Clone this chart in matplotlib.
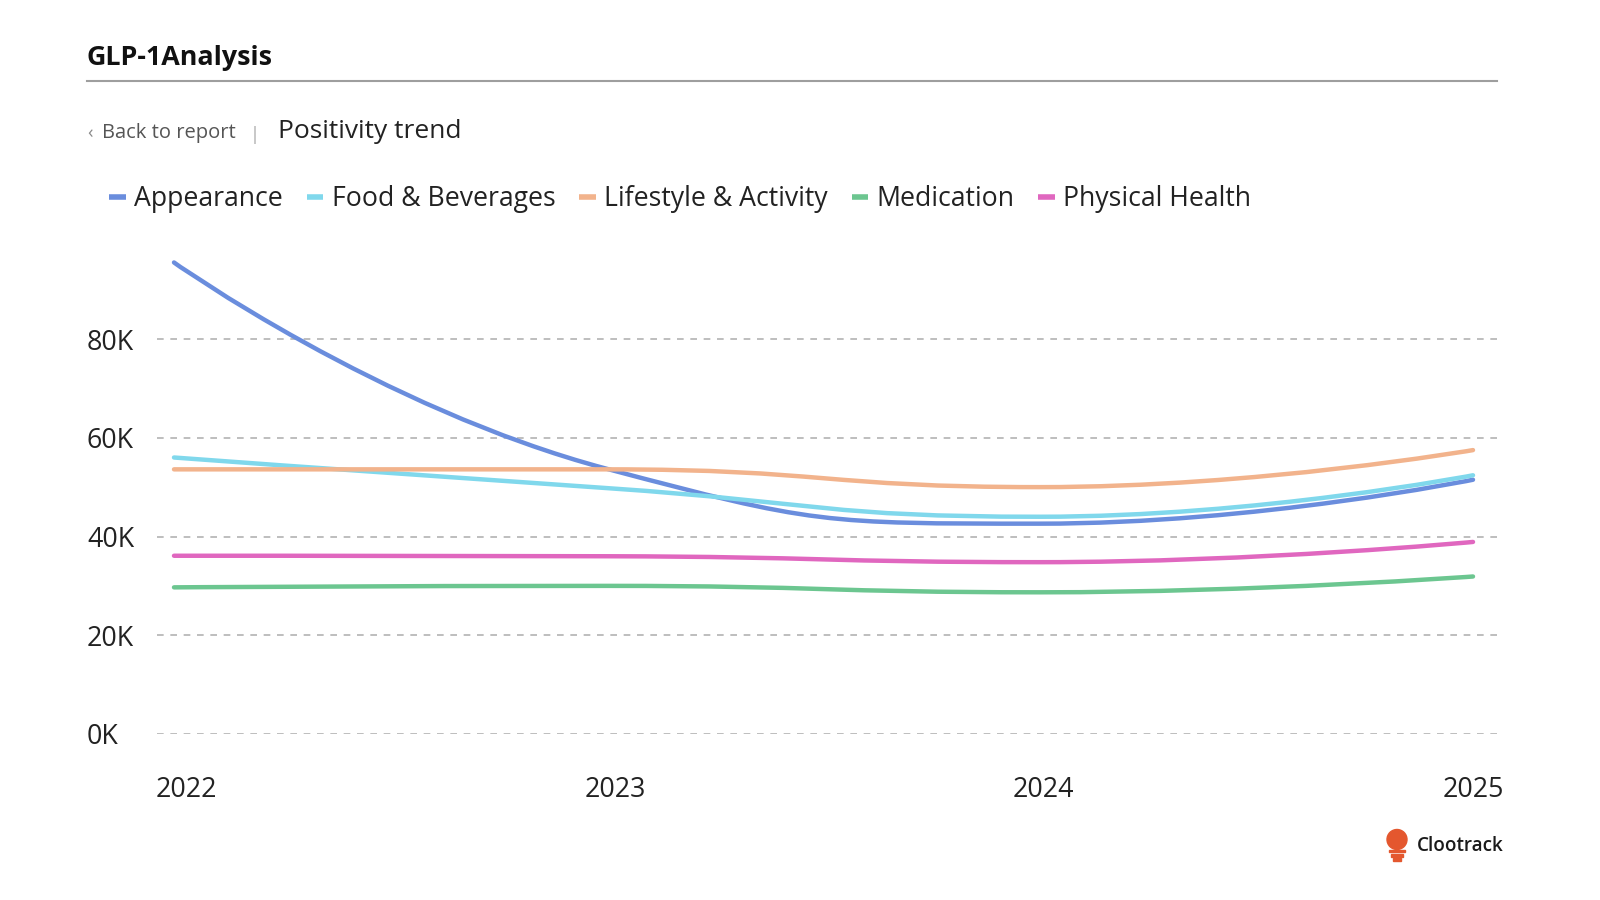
import numpy as np
import matplotlib
matplotlib.use("Agg")
import matplotlib.pyplot as plt
from matplotlib.path import Path
from matplotlib.patches import PathPatch, Ellipse, Rectangle
from matplotlib.lines import Line2D
import matplotlib.transforms as mtransforms

# ---------------- data ----------------
years = [2022, 2023, 2024, 2025]
year_labels = ["2022", "2023", "2024", "2025"]
series_names = ["Appearance", "Food & Beverages", "Lifestyle & Activity", "Medication", "Physical Health"]
appearance = [95500, 53700, 42600, 51500]
food_beverages = [56000, 49800, 44000, 52400]
lifestyle_activity = [53600, 53600, 50000, 57500]
medication = [29700, 30000, 28700, 31900]
physical_health = [36100, 36000, 34800, 38900]
y_ticks = [0, 20000, 40000, 60000, 80000]
y_tick_labels = ["0K", "20K", "40K", "60K", "80K"]

series_values = [appearance, food_beverages, lifestyle_activity, medication, physical_health]
colors = ["#6a8ddd", "#80d8ec", "#f2b38c", "#6cc690", "#e067bf"]

plt.rcParams["font.family"] = ["Open Sans", "DejaVu Sans"]

W, H = 1600, 900
fig = plt.figure(figsize=(W / 100, H / 100), dpi=100)
fig.patch.set_facecolor("white")

def fx(px):
    return px / W

def fy(py):
    return 1 - py / H

# axes geometry (pixels)
ax_left, ax_right = 157, 1497
ax_bottom, ax_top = 734, 240.25
ax = fig.add_axes([fx(ax_left), fy(ax_bottom), (ax_right - ax_left) / W, (ax_bottom - ax_top) / H])
ax.set_xlim(2022 - 17 / 433, 2025 + 24 / 433)
ax.set_ylim(0, 100000)
for s in ax.spines.values():
    s.set_visible(False)
ax.set_facecolor("white")

# grid
ax.set_yticks(y_ticks)
ax.set_yticklabels(y_tick_labels)
ax.yaxis.grid(True, color="#b3b3b3", linestyle=(0, (4, 4)), linewidth=1.2)
ax.xaxis.grid(False)
ax.set_axisbelow(True)
ax.tick_params(axis="y", length=0, pad=50.4, labelsize=19.3, labelcolor="#222222")
for lab in ax.get_yticklabels():
    lab.set_horizontalalignment("left")

ax.set_xticks(years)
ax.set_xticklabels(year_labels)
ax.tick_params(axis="x", length=0, pad=30, labelsize=19.3, labelcolor="#222222")
for lab, dx in zip(ax.get_xticklabels(), [12, 8, 3, 0]):
    off = mtransforms.ScaledTranslation(dx / 100, 0, fig.dpi_scale_trans)
    lab.set_transform(lab.get_transform() + off)


def echarts_smooth_path(xs, ys, smooth=0.5):
    pts = ax.transData.transform(np.column_stack([xs, ys]).astype(float))
    n = len(pts)
    verts = [pts[0]]
    codes = [Path.MOVETO]
    cp0 = pts[0].copy()
    for i in range(1, n):
        p = pts[i]
        prev = pts[i - 1]
        if i == n - 1:
            cp1 = p.copy()
            next_cp0 = p.copy()
        else:
            nxt = pts[i + 1]
            v = nxt - prev
            len_prev = np.hypot(*(p - prev))
            len_next = np.hypot(*(nxt - p))
            ratio = len_next / (len_next + len_prev)
            next_cp0 = p + v * smooth * ratio
            next_cp0 = np.minimum(next_cp0, np.maximum(nxt, p))
            next_cp0 = np.maximum(next_cp0, np.minimum(nxt, p))
            v = next_cp0 - p
            cp1 = p - v * len_prev / len_next
            cp1 = np.minimum(cp1, np.maximum(prev, p))
            cp1 = np.maximum(cp1, np.minimum(prev, p))
            v = p - cp1
            next_cp0 = p + v * len_next / len_prev
        verts += [cp0, cp1, p]
        codes += [Path.CURVE4] * 3
        cp0 = next_cp0
    inv = ax.transData.inverted()
    return Path(inv.transform(np.array(verts)), codes)


for vals, c in zip(series_values, colors):
    path = echarts_smooth_path(years, vals)
    patch = PathPatch(path, fill=False, edgecolor=c, linewidth=3.2, capstyle="round",
                      joinstyle="round", clip_on=False, zorder=3)
    ax.add_patch(patch)

# legend
handles = [Line2D([], [], color=c, linewidth=4, solid_capstyle="butt") for c in colors]
fig.legend(handles, series_names, loc="center left", bbox_to_anchor=(fx(109), fy(199)),
           ncol=5, frameon=False, fontsize=19.2, handlelength=0.62, handletextpad=0.32,
           columnspacing=0.89, borderpad=0, borderaxespad=0, labelcolor="#222222")

# header
fig.text(fx(87), fy(58), "GLP-1Analysis", fontsize=19.4, fontweight="bold", color="#111111",
         ha="left", va="center")
fig.add_artist(Line2D([fx(87), fx(1497)], [fy(81), fy(81)], color="#9e9e9e", linewidth=1.5))
fig.text(fx(87), fy(133), "\u2039", fontsize=13, color="#888888", ha="left", va="center")
fig.text(fx(102), fy(133), "Back to report", fontsize=14.5, color="#555555", ha="left", va="center")
fig.text(fx(250), fy(135), "|", fontsize=13, color="#aaaaaa", ha="left", va="center")
fig.text(fx(278), fy(131), "Positivity trend", fontsize=19, color="#222222", ha="left", va="center")

# logo
logo_c = "#e4572e"
fig.add_artist(Ellipse((fx(1397), fy(839.5)), 20 / W, 20 / H, color=logo_c,
                       transform=fig.transFigure))
for yy, ww in [(851, 16), (855.5, 12), (859.5, 8)]:
    fig.add_artist(Rectangle((fx(1397 - ww / 2), fy(yy + 1.2)), ww / W, 2.4 / H, color=logo_c,
                             transform=fig.transFigure))
fig.text(fx(1417), fy(846), "Clootrack", fontsize=13.6, fontweight="semibold", color="#1a1a1a",
         ha="left", va="center")

fig.savefig("out.png", dpi=100, facecolor="white")
